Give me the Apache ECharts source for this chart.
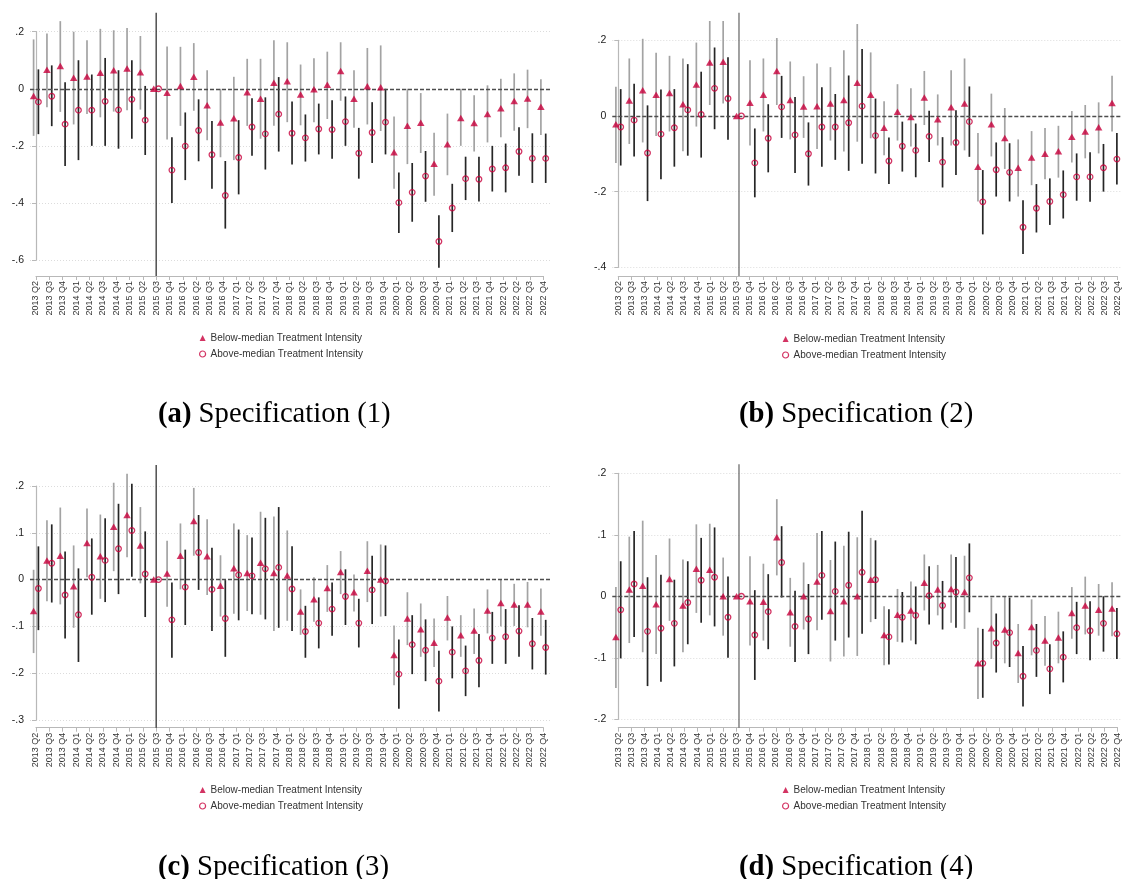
<!DOCTYPE html>
<html><head><meta charset="utf-8">
<script src="https://cdn.jsdelivr.net/npm/echarts@6/dist/echarts.min.js"></script>
<style>html,body{margin:0;padding:0;background:#fff}#c{width:1122px;height:879px}</style>
</head><body><div id="c"></div>
<script>
// ---------- DATA ----------
const quarters = ['2013 Q2','2013 Q3','2013 Q4','2014 Q1','2014 Q2','2014 Q3','2014 Q4','2015 Q1','2015 Q2','2015 Q3','2015 Q4','2016 Q1','2016 Q2','2016 Q3','2016 Q4','2017 Q1','2017 Q2','2017 Q3','2017 Q4','2018 Q1','2018 Q2','2018 Q3','2018 Q4','2019 Q1','2019 Q2','2019 Q3','2019 Q4','2020 Q1','2020 Q2','2020 Q3','2020 Q4','2021 Q1','2021 Q2','2021 Q3','2021 Q4','2022 Q1','2022 Q2','2022 Q3','2022 Q4'];
const refQuarter = '2015 Q3';
const seriesNames = ['Below-median Treatment Intensity','Above-median Treatment Intensity'];
const captions = ['{b|(a)} Specification (1)','{b|(b)} Specification (2)','{b|(c)} Specification (3)','{b|(d)} Specification (4)'];

// Panel (a)
const aBelow   = [-0.025,0.067,0.08,0.039,0.043,0.056,0.065,0.071,0.058,0,-0.014,0.01,0.042,-0.058,-0.118,-0.103,-0.012,-0.035,0.021,0.026,-0.02,-0.002,0.014,0.062,-0.035,0.009,0.005,-0.222,-0.13,-0.119,-0.263,-0.194,-0.102,-0.12,-0.088,-0.068,-0.043,-0.034,-0.063];
const aBelowLo = [-0.165,-0.065,-0.081,-0.125,-0.088,-0.1,-0.08,-0.075,-0.073,null,-0.178,-0.13,-0.077,-0.18,-0.24,-0.25,-0.13,-0.175,-0.13,-0.117,-0.128,-0.117,-0.106,-0.042,-0.137,-0.125,-0.148,-0.35,-0.264,-0.225,-0.375,-0.303,-0.2,-0.22,-0.188,-0.17,-0.147,-0.138,-0.162];
const aBelowHi = [0.173,0.194,0.237,0.2,0.17,0.21,0.205,0.213,0.185,null,0.148,0.147,0.16,0.065,0.0,0.042,0.105,0.105,0.17,0.163,0.085,0.107,0.13,0.163,0.065,0.143,0.152,-0.097,0.0,-0.015,-0.154,-0.087,0.0,-0.023,0.012,0.035,0.054,0.067,0.033];
const aAbove   = [-0.046,-0.026,-0.124,-0.075,-0.075,-0.044,-0.074,-0.037,-0.11,0,-0.285,-0.201,-0.146,-0.231,-0.374,-0.241,-0.134,-0.158,-0.089,-0.156,-0.172,-0.141,-0.143,-0.115,-0.226,-0.153,-0.117,-0.399,-0.363,-0.306,-0.535,-0.418,-0.315,-0.317,-0.281,-0.277,-0.22,-0.244,-0.244];
const aAboveLo = [-0.159,-0.131,-0.271,-0.25,-0.2,-0.2,-0.21,-0.175,-0.232,null,-0.4,-0.32,-0.254,-0.35,-0.49,-0.37,-0.235,-0.283,-0.22,-0.265,-0.255,-0.23,-0.245,-0.2,-0.315,-0.26,-0.23,-0.505,-0.466,-0.396,-0.627,-0.502,-0.39,-0.395,-0.36,-0.363,-0.305,-0.33,-0.33];
const aAboveHi = [0.068,0.082,0.023,0.1,0.05,0.108,0.065,0.1,0.01,null,-0.17,-0.083,-0.037,-0.113,-0.253,-0.11,-0.033,-0.03,0.041,-0.045,-0.09,-0.052,-0.04,-0.027,-0.137,-0.047,0.0,-0.293,-0.26,-0.218,-0.443,-0.333,-0.238,-0.238,-0.2,-0.192,-0.135,-0.156,-0.157];

// Panel (b)
const bBelow   = [-0.022,0.041,0.068,0.056,0.061,0.031,0.083,0.141,0.143,0,0.035,0.056,0.119,0.042,0.025,0.026,0.033,0.042,0.088,0.056,-0.031,0.011,-0.003,0.049,-0.009,0.023,0.033,-0.134,-0.022,-0.058,-0.137,-0.11,-0.1,-0.093,-0.055,-0.041,-0.03,0.034];
const bBelowLo = [-0.124,-0.074,-0.07,-0.053,-0.041,-0.093,-0.028,0.029,0.033,null,-0.078,-0.041,0.029,-0.062,-0.058,-0.087,-0.065,-0.094,-0.068,-0.059,-0.104,-0.065,-0.081,-0.024,-0.078,-0.078,-0.091,-0.226,-0.107,-0.14,-0.213,-0.183,-0.167,-0.163,-0.123,-0.112,-0.099,-0.041];
const bBelowHi = [0.077,0.152,0.204,0.167,0.159,0.152,0.194,0.251,0.251,null,0.147,0.152,0.206,0.144,0.105,0.139,0.129,0.174,0.243,0.168,0.039,0.084,0.073,0.119,0.057,0.121,0.152,-0.045,0.059,0.021,-0.062,-0.04,-0.032,-0.026,0.013,0.029,0.036,0.106];
const bAbove   = [-0.029,-0.011,-0.098,-0.048,-0.031,0.016,0.004,0.073,0.046,0,-0.124,-0.059,0.024,-0.05,-0.1,-0.029,-0.029,-0.018,0.026,-0.052,-0.119,-0.08,-0.091,-0.054,-0.122,-0.07,-0.015,-0.227,-0.142,-0.149,-0.294,-0.244,-0.226,-0.208,-0.161,-0.161,-0.137,-0.114];
const bAboveLo = [-0.131,-0.107,-0.225,-0.167,-0.134,-0.105,-0.11,-0.035,-0.063,null,-0.215,-0.149,-0.058,-0.151,-0.184,-0.134,-0.116,-0.145,-0.126,-0.152,-0.18,-0.147,-0.162,-0.122,-0.189,-0.156,-0.108,-0.313,-0.213,-0.226,-0.365,-0.308,-0.288,-0.271,-0.224,-0.227,-0.2,-0.181];
const bAboveHi = [0.071,0.085,0.028,0.07,0.071,0.137,0.117,0.181,0.155,null,-0.033,0.031,0.106,0.05,-0.017,0.076,0.058,0.107,0.177,0.046,-0.057,-0.015,-0.02,0.014,-0.056,0.015,0.078,-0.143,-0.07,-0.072,-0.223,-0.18,-0.165,-0.144,-0.099,-0.096,-0.074,-0.045];

// Panel (c)
const cBelow   = [-0.067,0.041,0.051,-0.014,0.078,0.05,0.113,0.138,0.073,0,0.013,0.051,0.125,0.05,-0.013,0.024,0.014,0.036,0.014,0.009,-0.068,-0.042,-0.018,0.016,-0.027,0.019,0.0,-0.161,-0.083,-0.106,-0.135,-0.081,-0.119,-0.109,-0.066,-0.05,-0.053,-0.053,-0.068];
const cBelowLo = [-0.157,-0.046,-0.053,-0.103,0.005,-0.041,0.018,0.048,-0.008,null,-0.058,-0.021,0.051,-0.033,-0.079,-0.073,-0.067,-0.075,-0.11,-0.088,-0.118,-0.09,-0.069,-0.031,-0.068,-0.048,-0.079,-0.226,-0.14,-0.165,-0.187,-0.13,-0.165,-0.159,-0.115,-0.1,-0.099,-0.102,-0.12];
const cBelowHi = [0.021,0.127,0.154,0.073,0.152,0.139,0.207,0.226,0.155,null,0.083,0.12,0.196,0.129,0.052,0.12,0.095,0.145,0.135,0.105,-0.021,0.005,0.031,0.061,0.011,0.082,0.075,-0.098,-0.027,-0.051,-0.083,-0.035,-0.076,-0.062,-0.021,0.0,-0.009,-0.005,-0.019];
const cAbove   = [-0.019,0.035,-0.033,-0.075,0.005,0.041,0.066,0.105,0.012,0,-0.086,-0.016,0.058,-0.021,-0.083,0.01,0.008,0.023,0.026,-0.02,-0.111,-0.093,-0.063,-0.036,-0.093,-0.022,-0.003,-0.202,-0.139,-0.151,-0.217,-0.155,-0.195,-0.173,-0.125,-0.122,-0.11,-0.137,-0.145];
const cAboveLo = [-0.108,-0.049,-0.126,-0.176,-0.075,-0.048,-0.031,0.006,-0.08,null,-0.167,-0.097,-0.022,-0.11,-0.165,-0.087,-0.074,-0.085,-0.103,-0.11,-0.167,-0.147,-0.12,-0.097,-0.145,-0.095,-0.078,-0.276,-0.202,-0.217,-0.282,-0.211,-0.249,-0.23,-0.18,-0.18,-0.165,-0.192,-0.203];
const cAboveHi = [0.071,0.118,0.06,0.024,0.088,0.131,0.162,0.205,0.103,null,-0.006,0.064,0.138,0.068,-0.001,0.107,0.09,0.132,0.155,0.071,-0.056,-0.038,-0.006,0.022,-0.041,0.051,0.073,-0.128,-0.076,-0.085,-0.152,-0.1,-0.141,-0.116,-0.069,-0.063,-0.055,-0.082,-0.086];

// Panel (d)
const dBelow   = [-0.066,0.011,0.017,-0.013,0.028,-0.015,0.045,0.043,0.0,0,-0.008,-0.009,0.096,-0.026,0.0,0.024,-0.024,-0.008,0.0,0.027,-0.063,-0.03,-0.023,0.022,0.011,0.012,0.007,-0.109,-0.052,-0.054,-0.092,-0.05,-0.072,-0.067,-0.027,-0.015,-0.022,-0.02];
const dBelowLo = [-0.149,-0.076,-0.091,-0.094,-0.04,-0.091,-0.027,-0.031,-0.064,null,-0.08,-0.072,0.034,-0.082,-0.054,-0.055,-0.106,-0.098,-0.097,-0.042,-0.112,-0.074,-0.072,-0.023,-0.031,-0.043,-0.053,-0.167,-0.102,-0.109,-0.141,-0.096,-0.113,-0.109,-0.069,-0.062,-0.064,-0.065];
const dBelowHi = [0.015,0.097,0.123,0.067,0.094,0.06,0.117,0.118,0.063,null,0.065,0.053,0.158,0.03,0.055,0.103,0.059,0.082,0.096,0.095,-0.016,0.012,0.024,0.068,0.051,0.068,0.066,-0.051,-0.002,0.0,-0.045,-0.005,-0.032,-0.025,0.015,0.032,0.02,0.023];
const dAbove   = [-0.022,0.02,-0.057,-0.052,-0.044,-0.01,0.026,0.031,-0.034,0,-0.063,-0.025,0.055,-0.049,-0.037,0.034,0.008,0.018,0.039,0.027,-0.066,-0.034,-0.031,0.001,-0.015,0.007,0.03,-0.109,-0.076,-0.059,-0.13,-0.088,-0.118,-0.099,-0.051,-0.056,-0.044,-0.061];
const dAboveLo = [-0.101,-0.066,-0.146,-0.139,-0.114,-0.078,-0.043,-0.049,-0.1,null,-0.136,-0.086,-0.002,-0.107,-0.094,-0.038,-0.072,-0.067,-0.061,-0.037,-0.111,-0.075,-0.078,-0.046,-0.054,-0.051,-0.026,-0.165,-0.124,-0.115,-0.179,-0.131,-0.159,-0.14,-0.094,-0.104,-0.09,-0.102];
const dAboveHi = [0.057,0.106,0.031,0.035,0.027,0.057,0.095,0.112,0.032,null,0.01,0.036,0.114,0.009,0.02,0.106,0.089,0.105,0.139,0.091,-0.021,0.007,0.016,0.049,0.025,0.064,0.086,-0.053,-0.028,-0.002,-0.081,-0.045,-0.078,-0.057,-0.009,-0.008,0.0,-0.019];

// Y-axis ranges per panel
const yRanges = [
  {min:-0.6, max:0.2, interval:0.2},
  {min:-0.4, max:0.2, interval:0.2},
  {min:-0.3, max:0.2, interval:0.1},
  {min:-0.2, max:0.2, interval:0.1}
];

// ---------- LAYOUT / STYLE ----------
const RED = '#c8003c';
const LIGHT = '#a3a3a3', DARK = '#262626', AXIS = '#b8b8b8';
const OFF = 0.18;
const layouts = [
  {plotLeft:30,  plotRight:551,  firstX:36,    step:13.35, yMaxPx:31.7,  yMinPx:260,   plotTop:12.7,  plotBot:276,   vColor:'#111', legL:199, legT:332, capL:158, capT:400},
  {plotLeft:612.3,plotRight:1122,firstX:618.3, step:13.41, yMaxPx:40.3,  yMinPx:267.3, plotTop:12.7,  plotBot:276,   vColor:'#555', legL:782, legT:333, capL:739, capT:400},
  {plotLeft:30,  plotRight:551,  firstX:36,    step:13.35, yMaxPx:486,   yMinPx:720,   plotTop:465,   plotBot:727.7, vColor:'#111', legL:199, legT:784, capL:158, capT:853},
  {plotLeft:612.3,plotRight:1122,firstX:618.3, step:13.41, yMaxPx:473.3, yMinPx:719.3, plotTop:464.3, plotBot:727.7, vColor:'#555', legL:782, legT:784, capL:739, capT:853}
];
const panelData = [
  [aBelow,aBelowLo,aBelowHi,aAbove,aAboveLo,aAboveHi],
  [bBelow,bBelowLo,bBelowHi,bAbove,bAboveLo,bAboveHi],
  [cBelow,cBelowLo,cBelowHi,cAbove,cAboveLo,cAboveHi],
  [dBelow,dBelowLo,dBelowHi,dAbove,dAboveLo,dAboveHi]
];

function fmtY(v){
  const r = Math.round(v*10)/10;
  if (r === 0) return '0';
  return (r < 0 ? '-' : '') + Math.abs(r).toString().replace(/^0/, '');
}

const option = {animation:false, backgroundColor:'#fff', grid:[], xAxis:[], yAxis:[], series:[], legend:[], title:[]};
const FONT = 'Liberation Sans, Arial, sans-serif';
const SERIF = 'Liberation Serif, Times New Roman, serif';

layouts.forEach((L, p) => {
  const [bel, belLo, belHi, abo, aboLo, aboHi] = panelData[p];
  const yr = yRanges[p];
  const gPlot = 2*p, gAx = 2*p+1;
  option.grid.push({left:L.plotLeft, top:L.yMaxPx, width:L.plotRight - L.plotLeft, height:L.yMinPx - L.yMaxPx});
  option.grid.push({left:L.firstX, top:L.plotBot - 1, width:L.step*(quarters.length-1), height:1});
  option.xAxis.push({type:'value', gridIndex:gPlot, show:false,
    min:(L.plotLeft - L.firstX)/L.step, max:(L.plotRight - L.firstX)/L.step});
  option.xAxis.push({type:'category', gridIndex:gAx, data:quarters, boundaryGap:false,
    axisLine:{lineStyle:{color:AXIS, width:1.2}},
    axisTick:{length:4, lineStyle:{color:AXIS, width:1}, interval:0},
    axisLabel:{rotate:90, interval:0, fontSize:9, color:'#333', margin:5, fontFamily:FONT},
    splitLine:{show:false}});
  option.yAxis.push({type:'value', gridIndex:gPlot, min:yr.min, max:yr.max, interval:yr.interval,
    axisLine:{show:true, lineStyle:{color:AXIS, width:1.2}},
    axisTick:{show:true, length:4, lineStyle:{color:AXIS}},
    axisLabel:{fontSize:10.5, color:'#222', margin:6, formatter:fmtY, fontFamily:FONT},
    splitLine:{show:true, lineStyle:{color:'#dcdcdc', type:[1,2], width:1}}});
  option.yAxis.push({type:'value', gridIndex:gAx, show:false});

  const ciData = (lo, hi, off) => lo.map((l,i) => l == null ? null : [i+off, l, hi[i]]).filter(d => d);
  const ciSeries = (data, color) => ({type:'custom', xAxisIndex:gPlot, yAxisIndex:gPlot, clip:false, silent:true,
    data, encode:{x:0, y:[1,2]}, z:2,
    renderItem:(params, api) => {
      const p1 = api.coord([api.value(0), api.value(1)]);
      const p2 = api.coord([api.value(0), api.value(2)]);
      return {type:'line', shape:{x1:p1[0], y1:p1[1], x2:p2[0], y2:p2[1]}, style:{stroke:color, lineWidth:1.7}};
    }});
  option.series.push(ciSeries(ciData(belLo, belHi, -OFF), LIGHT));
  option.series.push(ciSeries(ciData(aboLo, aboHi, OFF), DARK));
  // reference vertical line at 2015 Q3
  option.series.push({type:'custom', xAxisIndex:gPlot, yAxisIndex:gPlot, clip:false, silent:true, z:3,
    data:[[quarters.indexOf(refQuarter), 0]],
    renderItem:(params, api) => {
      const x = api.coord([api.value(0), 0])[0];
      return {type:'line', shape:{x1:x, y1:L.plotTop, x2:x, y2:L.plotBot}, style:{stroke:L.vColor, lineWidth:1.1}};
    }});
  option.series.push({type:'scatter', name:seriesNames[0], xAxisIndex:gPlot, yAxisIndex:gPlot, clip:false, z:4,
    symbol:'triangle', symbolSize:[7.5,6.5], itemStyle:{color:RED},
    data: bel.map((v,i) => [i-OFF, v]),
    markLine:{silent:true, symbol:['none','none'], label:{show:false}, z:3,
      lineStyle:{type:[4,2], color:'#4d4d4d', width:1.4}, data:[{yAxis:0}]}});
  option.series.push({type:'scatter', name:seriesNames[1], xAxisIndex:gPlot, yAxisIndex:gPlot, clip:false, z:5,
    symbol:'circle', symbolSize:5.6, itemStyle:{color:'rgba(255,255,255,0)', borderColor:RED, borderWidth:1.3},
    data: abo.map((v,i) => [i+OFF, v])});

  option.legend.push({left:L.legL, top:L.legT, orient:'vertical', itemWidth:6, itemHeight:6, itemGap:4,
    selectedMode:false, padding:0,
    textStyle:{fontSize:10, color:'#333', fontFamily:FONT, lineHeight:12},
    data:[{name:seriesNames[0], icon:'triangle', itemStyle:{color:RED}},
          {name:seriesNames[1], icon:'circle', itemStyle:{color:'rgba(255,255,255,0)', borderColor:RED, borderWidth:1.2}}]});
  option.title.push({text:captions[p], left:L.capL, top:L.capT, padding:0,
    textStyle:{fontFamily:SERIF, fontSize:28.7, fontWeight:'normal', color:'#000',
      rich:{b:{fontFamily:SERIF, fontSize:28.7, fontWeight:'bold', color:'#000'}}}});
});

const chart = echarts.init(document.getElementById('c'), null, {renderer:'canvas'});
chart.setOption(option);
</script>
</body></html>
